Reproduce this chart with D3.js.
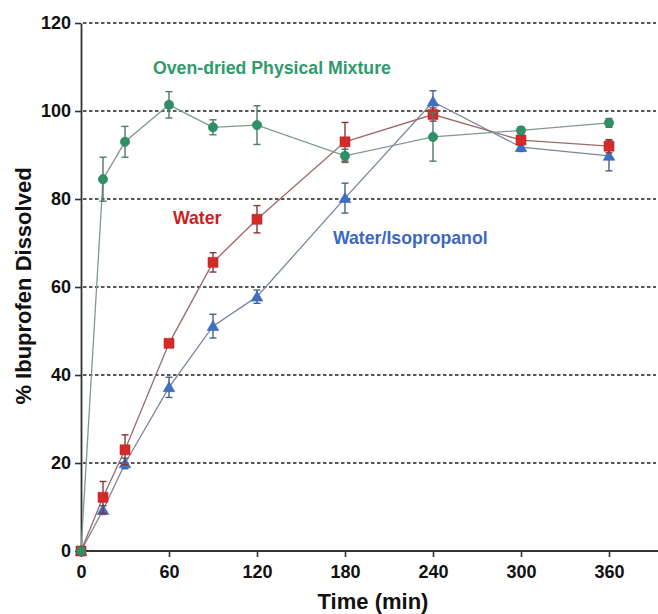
<!DOCTYPE html>
<html><head><meta charset="utf-8">
<script src="https://cdn.jsdelivr.net/npm/d3@7"></script>
<style>
html,body{margin:0;padding:0;background:#fff;}
svg{display:block;font-family:"Liberation Sans",Arial,sans-serif;}
</style></head>
<body><svg id="chart" width="658" height="614"></svg>
<script>
const times = [0, 15, 30, 60, 90, 120, 180, 240, 300, 360];
const ovenDried = [0, 84.5, 93.0, 101.4, 96.3, 96.8, 89.8, 94.1, 95.6, 97.3];
const ovenDriedErr = [0, 5.0, 3.5, 3.0, 1.7, 4.4, 1.5, 5.5, 0.8, 1.0];
const water = [0, 12.2, 23.0, 47.2, 65.6, 75.4, 93.0, 99.2, 93.4, 92.0];
const waterErr = [0, 3.6, 3.4, 0.8, 2.2, 3.1, 4.4, 1.5, 1.0, 1.5];
const waterIso = [0, 9.3, 19.9, 37.2, 51.1, 57.8, 80.2, 102.1, 91.8, 89.8];
const waterIsoErr = [0, 1.0, 1.2, 2.3, 2.7, 1.5, 3.4, 2.5, 1.0, 3.4];
const xTicks = [0, 60, 120, 180, 240, 300, 360];
const yTicks = [0, 20, 40, 60, 80, 100, 120];
const seriesNames = ["Water/Isopropanol", "Water", "Oven-dried Physical Mixture"];

const svg = d3.select("#chart");
const x = d3.scaleLinear().domain([0, 390]).range([81, 653]);
const y = d3.scaleLinear().domain([0, 120]).range([551, 23]);

// grid
svg.append("g").selectAll("line").data(yTicks.filter(d => d > 0)).join("line")
  .attr("x1", 83).attr("x2", 656)
  .attr("y1", d => y(d)).attr("y2", d => y(d))
  .attr("stroke", "#222").attr("stroke-width", 1.6).attr("stroke-dasharray", "3.5,2.5");

// axes
const xAxis = svg.append("g").attr("transform", `translate(0,${y(0)})`)
  .call(d3.axisBottom(x).tickValues(xTicks).tickSize(6).tickPadding(8).tickSizeOuter(0));
xAxis.select(".domain").attr("d", `M${x(0)},0H658`);
const yAxis = svg.append("g").attr("transform", `translate(${x(0)},0)`)
  .call(d3.axisLeft(y).tickValues(yTicks).tickSize(6).tickPadding(4).tickSizeOuter(0));
[xAxis, yAxis].forEach(a => {
  a.select(".domain").attr("stroke", "#333").attr("stroke-width", 1.8);
  a.selectAll(".tick line").attr("stroke", "#333").attr("stroke-width", 1.6);
  a.selectAll(".tick text").attr("fill", "#111").attr("font-size", 18).attr("font-weight", "bold")
    .attr("font-family", "Liberation Sans, Arial, sans-serif");
});

const series = [
  {name: seriesNames[0], vals: waterIso, err: waterIsoErr, fill: "#3d6fc4", line: "#7a869e", ebar: "#4a5f8a", shape: "tri"},
  {name: seriesNames[1], vals: water, err: waterErr, fill: "#d42a2a", line: "#9a6a6a", ebar: "#8a3535", shape: "sq"},
  {name: seriesNames[2], vals: ovenDried, err: ovenDriedErr, fill: "#2f8f66", line: "#7f9a8c", ebar: "#4f7a66", shape: "circ"}
];

const lineGen = d3.line().x(d => x(d.t)).y(d => y(d.v));
series.forEach(s => {
  const pts = times.map((t, i) => ({t, v: s.vals[i], e: s.err[i]}));
  svg.append("path").datum(pts).attr("d", lineGen)
    .attr("fill", "none").attr("stroke", s.line).attr("stroke-width", 1.3);
});
series.forEach(s => {
  const pts = times.map((t, i) => ({t, v: s.vals[i], e: s.err[i]}));
  const g = svg.append("g");
  const eb = g.selectAll("g.eb").data(pts.filter(p => p.e > 0)).join("g").attr("stroke", s.ebar).attr("stroke-width", 1.4);
  eb.append("line").attr("x1", d => x(d.t)).attr("x2", d => x(d.t)).attr("y1", d => y(d.v + d.e)).attr("y2", d => y(d.v - d.e));
  eb.append("line").attr("x1", d => x(d.t) - 3.5).attr("x2", d => x(d.t) + 3.5).attr("y1", d => y(d.v + d.e)).attr("y2", d => y(d.v + d.e));
  eb.append("line").attr("x1", d => x(d.t) - 3.5).attr("x2", d => x(d.t) + 3.5).attr("y1", d => y(d.v - d.e)).attr("y2", d => y(d.v - d.e));
  const sym = s.shape === "tri" ? d3.symbolTriangle : s.shape === "sq" ? d3.symbolSquare : d3.symbolCircle;
  const size = s.shape === "tri" ? 58 : s.shape === "sq" ? 100 : 68;
  g.selectAll("path.m").data(pts).join("path")
    .attr("transform", d => `translate(${x(d.t)},${y(d.v) + (s.shape === "tri" ? 1 : 0)})`)
    .attr("d", d3.symbol().type(sym).size(size))
    .attr("fill", s.fill).attr("stroke", d3.color(s.fill).darker(0.3)).attr("stroke-width", 0.6);
});

// series labels
const lab = (txt, lx, ly, col) => svg.append("text").attr("x", lx).attr("y", ly).text(txt)
  .attr("fill", col).attr("font-size", 17.7).attr("font-weight", "bold");
lab(seriesNames[2], 153, 74, "#2f9a6c");
lab(seriesNames[1], 173, 224, "#cc1f24");
lab(seriesNames[0], 333, 244, "#3c68c2");

// axis titles
svg.append("text").attr("x", 373).attr("y", 609).attr("text-anchor", "middle")
  .attr("font-size", 22).attr("font-weight", "bold").attr("fill", "#111").text("Time (min)");
svg.append("text").attr("transform", "translate(31,286) rotate(-90)").attr("text-anchor", "middle")
  .attr("font-size", 22).attr("font-weight", "bold").attr("fill", "#111").text("% Ibuprofen Dissolved");
</script></body></html>
